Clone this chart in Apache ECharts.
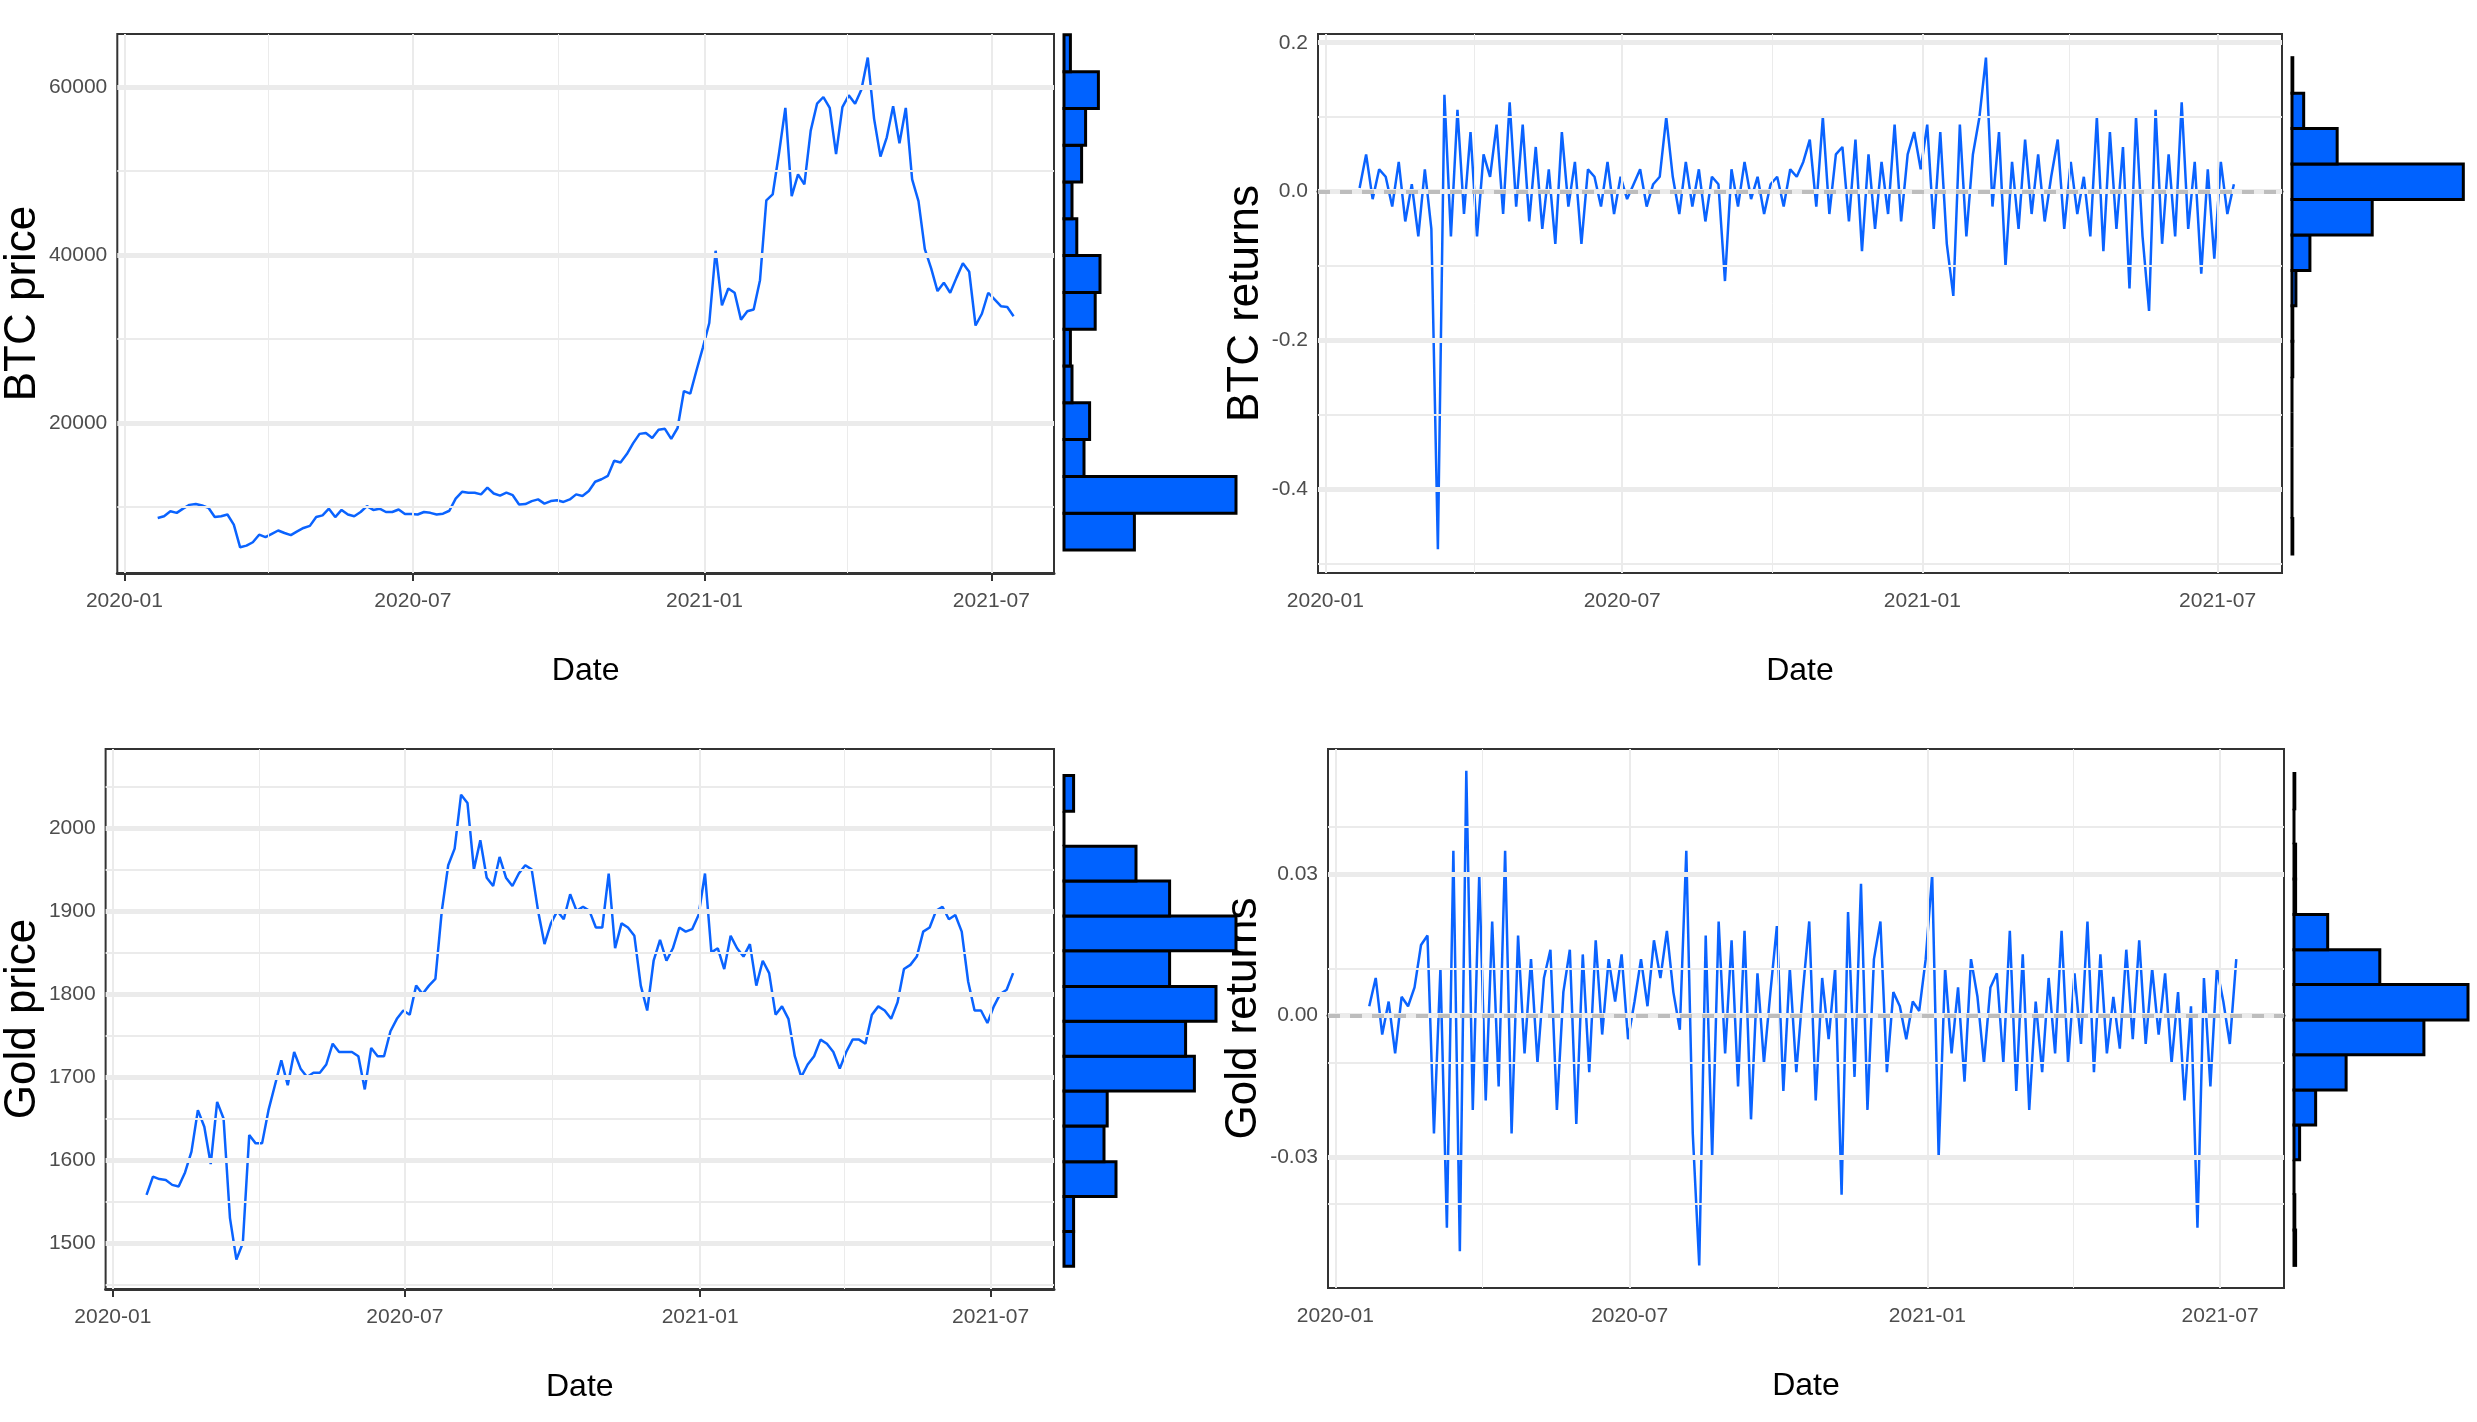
<!DOCTYPE html>
<html><head><meta charset="utf-8">
<script src="https://cdn.jsdelivr.net/npm/echarts@6/dist/echarts.min.js"></script>
<style>html,body{margin:0;padding:0;background:#fff}#c{width:2477px;height:1422px}</style>
</head><body><div id="c"></div>
<script>
// ---- data (sampled every 4 days from 2020-01-22) ----
const startDay = 21; // days after 2020-01-01
const stepDays = 4;
const btcPrice = [8680,8900,9500,9300,9800,10250,10350,10180,9900,8800,8900,9100,7900,5200,5400,5800,6700,6400,6800,7200,6900,6650,7100,7500,7750,8800,9000,9800,8800,9650,9100,8900,9400,10100,9650,9800,9400,9400,9700,9150,9150,9100,9400,9300,9100,9200,9550,11000,11800,11700,11700,11500,12300,11600,11350,11700,11400,10300,10350,10700,10900,10400,10700,10800,10600,10900,11500,11300,11900,13000,13300,13700,15500,15300,16300,17600,18700,18800,18200,19200,19300,18100,19400,23800,23500,26300,29000,31900,40500,34000,36000,35500,32300,33300,33500,37000,46500,47200,52100,57500,47000,49600,48400,54800,58000,58800,57500,52000,57600,59000,58000,59700,63500,56200,51700,54000,57700,53300,57500,49000,46400,40700,38400,35700,36700,35500,37300,39000,38000,31600,33000,35500,34700,33900,33800,32700];
const btcRet = [0.005,0.05,-0.01,0.03,0.02,-0.02,0.04,-0.04,0.01,-0.06,0.03,-0.05,-0.48,0.13,-0.06,0.11,-0.03,0.08,-0.06,0.05,0.02,0.09,-0.03,0.12,-0.02,0.09,-0.04,0.06,-0.05,0.03,-0.07,0.08,-0.02,0.04,-0.07,0.03,0.02,-0.02,0.04,-0.03,0.02,-0.01,0.01,0.03,-0.02,0.01,0.02,0.10,0.02,-0.03,0.04,-0.02,0.03,-0.04,0.02,0.01,-0.12,0.03,-0.02,0.04,-0.01,0.02,-0.03,0.01,0.02,-0.02,0.03,0.02,0.04,0.07,-0.02,0.10,-0.03,0.05,0.06,-0.04,0.07,-0.08,0.05,-0.05,0.04,-0.03,0.09,-0.04,0.05,0.08,0.03,0.09,-0.05,0.08,-0.07,-0.14,0.09,-0.06,0.05,0.10,0.18,-0.02,0.08,-0.10,0.04,-0.05,0.07,-0.03,0.05,-0.04,0.02,0.07,-0.05,0.04,-0.03,0.02,-0.06,0.10,-0.08,0.08,-0.05,0.06,-0.13,0.10,-0.06,-0.16,0.11,-0.07,0.05,-0.06,0.12,-0.05,0.04,-0.11,0.03,-0.09,0.04,-0.03,0.01];
const goldPrice = [1558,1580,1577,1576,1570,1568,1585,1610,1660,1640,1595,1670,1650,1530,1480,1500,1630,1620,1620,1660,1690,1720,1690,1730,1710,1700,1705,1705,1715,1740,1730,1730,1730,1725,1685,1735,1725,1725,1755,1770,1780,1775,1810,1800,1810,1818,1900,1955,1975,2040,2030,1950,1985,1940,1930,1965,1940,1930,1945,1955,1950,1900,1860,1885,1900,1890,1920,1900,1905,1900,1880,1880,1945,1855,1885,1880,1870,1810,1780,1840,1865,1840,1855,1880,1875,1878,1895,1945,1850,1855,1830,1870,1855,1845,1860,1810,1840,1825,1775,1785,1770,1725,1700,1715,1725,1745,1740,1730,1710,1730,1745,1745,1740,1775,1785,1780,1770,1790,1830,1835,1845,1875,1880,1900,1905,1890,1895,1875,1815,1780,1780,1765,1785,1800,1805,1825];
const goldRet = [0.002,0.008,-0.004,0.003,-0.008,0.004,0.002,0.006,0.015,0.017,-0.025,0.01,-0.045,0.035,-0.05,0.052,-0.02,0.03,-0.018,0.02,-0.015,0.035,-0.025,0.017,-0.008,0.012,-0.01,0.008,0.014,-0.02,0.005,0.014,-0.023,0.013,-0.012,0.016,-0.004,0.012,0.003,0.013,-0.005,0.003,0.012,0.002,0.016,0.008,0.018,0.005,-0.003,0.035,-0.025,-0.053,0.017,-0.03,0.02,-0.008,0.016,-0.015,0.018,-0.022,0.009,-0.01,0.005,0.019,-0.016,0.01,-0.012,0.005,0.02,-0.018,0.008,-0.005,0.01,-0.038,0.022,-0.013,0.028,-0.02,0.012,0.02,-0.012,0.005,0.002,-0.005,0.003,0.001,0.012,0.03,-0.03,0.01,-0.008,0.006,-0.014,0.012,0.004,-0.01,0.006,0.009,-0.01,0.018,-0.016,0.013,-0.02,0.003,-0.012,0.008,-0.008,0.018,-0.01,0.009,-0.006,0.02,-0.012,0.013,-0.008,0.004,-0.007,0.014,-0.005,0.016,-0.006,0.01,-0.004,0.009,-0.01,0.005,-0.018,0.002,-0.045,0.008,-0.015,0.01,0.003,-0.006,0.012];
// histograms: [lower edge, upper edge, count]
const btcPriceHist = [[4880,9260,88],[9260,13640,215],[13640,18020,25],[18020,22400,32],[22400,26780,10],[26780,31160,8],[31160,35540,39],[35540,39920,45],[39920,44300,16],[44300,48680,10],[48680,53060,22],[53060,57440,27],[57440,61820,43],[61820,66200,8]];
const btcRetHist = [[-0.4865,-0.4389,1],[-0.4389,-0.3913,0],[-0.3913,-0.3437,0],[-0.3437,-0.2961,0],[-0.2961,-0.2485,0],[-0.2485,-0.2009,1],[-0.2009,-0.1533,1],[-0.1533,-0.1057,5],[-0.1057,-0.0581,23],[-0.0581,-0.0105,103],[-0.0105,0.0371,220],[0.0371,0.0847,58],[0.0847,0.1323,15],[0.1323,0.1799,1]];
const goldPriceHist = [[1472,1514,12],[1514,1556,12],[1556,1598,65],[1598,1641,50],[1641,1683,54],[1683,1725,163],[1725,1767,152],[1767,1809,190],[1809,1852,132],[1852,1894,215],[1894,1936,132],[1936,1978,90],[1978,2020,0],[2020,2063,12]];
const goldRetHist = [[-0.0530,-0.0455,2],[-0.0455,-0.0380,1],[-0.0380,-0.0306,0],[-0.0306,-0.0232,7],[-0.0232,-0.0158,27],[-0.0158,-0.0083,65],[-0.0083,-0.0009,162],[-0.0009,0.0066,217],[0.0066,0.0140,107],[0.0140,0.0215,42],[0.0215,0.0290,2],[0.0290,0.0364,2],[0.0364,0.0439,0],[0.0439,0.0514,1]];
const xTickDays = [0,182,366,547];
const xTickLabels = ['2020-01','2020-07','2021-01','2021-07'];
const xMinorDays = [91,274,456];
const btcPriceTicks = [20000,40000,60000], btcPriceMinor = [10000,30000,50000];
const btcRetTicks = [-0.4,-0.2,0.0,0.2], btcRetMinor = [-0.5,-0.3,-0.1,0.1];
const goldPriceTicks = [1500,1600,1700,1800,1900,2000], goldPriceMinor = [1450,1550,1650,1750,1850,1950,2050];
const goldRetTicks = [-0.03,0.0,0.03], goldRetMinor = [-0.045,-0.015,0.015,0.045];

// ---- build ----
const LINE = '#0a63ff', BAR = '#0062ff';
const chart = echarts.init(document.getElementById('c'));
const panels = [
  {main:[110,34,944,539], hist:[1064,34,172,539], y:[2140,66300], data:btcPrice, hist_:btcPriceHist, hmax:215, ticks:btcPriceTicks, minor:btcPriceMinor, name:'BTC price', gap:62, fmt:v=>String(v), zero:false},
  {main:[1318,34,964,539], hist:[2292,34,176,539], y:[-0.512,0.2117], data:btcRet, hist_:btcRetHist, hmax:226, ticks:btcRetTicks, minor:btcRetMinor, name:'BTC returns', gap:42, fmt:v=>v.toFixed(1), zero:true},
  {main:[100,749,954,540], hist:[1064,749,172,540], y:[1444.6,2095], data:goldPrice, hist_:goldPriceHist, hmax:215, ticks:goldPriceTicks, minor:goldPriceMinor, name:'Gold price', gap:52, fmt:v=>String(v), zero:false},
  {main:[1328,749,956,539], hist:[2294,749,174,539], y:[-0.0578,0.0566], data:goldRet, hist_:goldRetHist, hmax:217, ticks:goldRetTicks, minor:goldRetMinor, name:'Gold returns', gap:54, fmt:v=>v.toFixed(2), zero:true}
];
const grid=[], xAxis=[], yAxis=[], series=[];
const tickFont = {fontFamily:'Liberation Sans', fontSize:21, color:'#4d4d4d'};
panels.forEach((p,i)=>{
  const gm = grid.length;
  grid.push({left:p.main[0], top:p.main[1], width:p.main[2], height:p.main[3], show:true, borderColor:'#333', borderWidth:2, backgroundColor:'#fff', containLabel:false});
  grid.push({left:p.hist[0], top:p.hist[1], width:p.hist[2], height:p.hist[3], show:false});
  xAxis.push({type:'value', gridIndex:gm, min:-4.5, max:586.5, splitLine:{show:false},
    axisLine:{show:true, lineStyle:{color:'#333', width:3}},
    axisTick:{show:true, customValues:xTickDays, length:8, lineStyle:{color:'#333', width:2}},
    axisLabel:{show:true, customValues:xTickDays, margin:18, formatter:v=>xTickLabels[xTickDays.indexOf(Math.round(v))]||'', ...tickFont},
    name:'Date', nameLocation:'middle', nameGap:82, nameTextStyle:{fontFamily:'Liberation Sans', fontSize:32, color:'#000'}});
  xAxis.push({type:'value', gridIndex:gm+1, min:0, max:p.hmax, show:false});
  yAxis.push({type:'value', gridIndex:gm, min:p.y[0], max:p.y[1], splitLine:{show:false},
    axisLine:{show:false},
    axisTick:{show:true, customValues:p.ticks, length:7, lineStyle:{color:'#333', width:3}},
    axisLabel:{show:true, customValues:p.ticks, margin:10, formatter:p.fmt, ...tickFont},
    name:p.name, nameLocation:'middle', nameGap:p.gap, nameRotate:90,
    nameTextStyle:{fontFamily:'Liberation Sans', fontSize:44, color:'#000', fontWeight:'normal'}});
  yAxis.push({type:'value', gridIndex:gm+1, min:p.y[0], max:p.y[1], show:false});
  const ml = [];
  xMinorDays.forEach(d=>ml.push({xAxis:d, lineStyle:{color:'#ebebeb', width:1, type:'solid'}}));
  xTickDays.forEach(d=>ml.push({xAxis:d, lineStyle:{color:'#ebebeb', width:2, type:'solid'}}));
  p.minor.forEach(v=>{ if(v>p.y[0]&&v<p.y[1]) ml.push({yAxis:v, lineStyle:{color:'#ebebeb', width:2, type:'solid'}}); });
  p.ticks.forEach(v=>ml.push({yAxis:v, lineStyle:{color:'#ebebeb', width:5, type:'solid'}}));
  series.push({type:'line', xAxisIndex:gm, yAxisIndex:gm, data:[], markLine:{silent:true, symbol:'none', label:{show:false}, animation:false, data:ml}});
  if(p.zero) series.push({type:'line', xAxisIndex:gm, yAxisIndex:gm, data:[], markLine:{silent:true, symbol:'none', label:{show:false}, animation:false, data:[{yAxis:0, lineStyle:{color:'#bdbdbd', width:4, type:[12,10]}}]}, z:3});
  series.push({type:'line', xAxisIndex:gm, yAxisIndex:gm, showSymbol:false, symbol:'none', animation:false,
    lineStyle:{color:LINE, width:2.5}, data:p.data.map((v,k)=>[startDay+k*stepDays, v]), z:4});
  series.push({type:'custom', xAxisIndex:gm+1, yAxisIndex:gm+1, animation:false, data:p.hist_,
    renderItem:(params, api)=>{
      const a = api.coord([0, api.value(1)]), b = api.coord([api.value(2), api.value(0)]);
      return {type:'rect', shape:{x:a[0], y:a[1], width:Math.max(b[0]-a[0],0), height:b[1]-a[1]}, style:{fill:BAR, stroke:'#000', lineWidth:3}};
    }, encode:{x:2, y:[0,1]}});
});
chart.setOption({animation:false, grid, xAxis, yAxis, series});
</script></body></html>
